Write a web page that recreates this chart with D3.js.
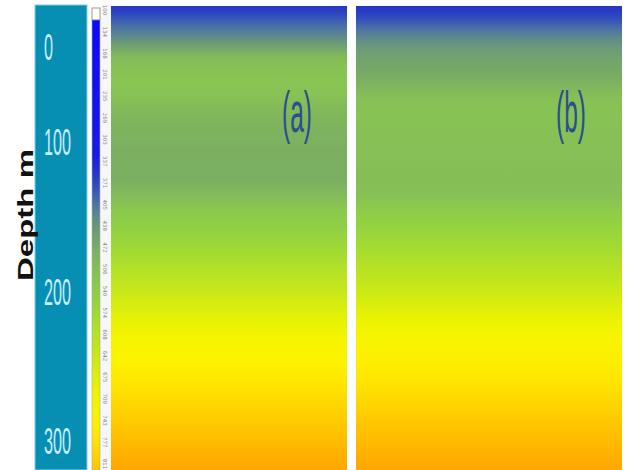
<!DOCTYPE html>
<html>
<head>
<meta charset="utf-8">
<script src="https://cdn.jsdelivr.net/npm/d3@7/dist/d3.min.js"></script>
<style>
  html, body { margin: 0; padding: 0; background: #fff; }
  svg { display: block; }
</style>
</head>
<body>
<div id="page"></div>
<script>
// depth labels on the left panel
var depthTicks = [0, 100, 200, 300];
// colour bar labels
var barTicks = [100, 134, 168, 201, 235, 269, 303, 337, 371, 405, 438, 472, 506, 540, 574, 608, 642, 675, 709, 743, 777, 811];
// depth rows (m) of the two sections
var depths = [7, 12, 17, 23, 30, 36, 43, 51, 58, 68, 75, 85, 105, 125, 135, 145, 155, 168, 182, 195, 205, 219, 232, 246, 259, 273, 286, 299, 313, 320];
var valuesA = [358, 365, 385, 405, 430, 460, 500, 515, 522, 515, 500, 487, 479, 477, 498, 530, 548, 568, 598, 628, 655, 690, 725, 745, 765, 790, 810, 828, 845, 850];
var valuesB = [355, 362, 378, 400, 425, 442, 455, 465, 478, 505, 515, 515, 510, 506, 512, 540, 556, 575, 605, 635, 662, 698, 730, 750, 770, 793, 812, 830, 846, 850];
// colour ramp
var colorValues = [100, 330, 355, 380, 400, 425, 450, 475, 500, 520, 550, 580, 620, 660, 700, 740, 770, 800, 830, 850];
var colorList = ['#0a0af8', '#1a1ae6', '#2535c8', '#3552b8', '#4a70a8', '#5f8c8a', '#70a070', '#7aae62', '#84bc58', '#88c454', '#90d044', '#a4dc30', '#bce420', '#d4ec10', '#ecf400', '#fcf400', '#ffe600', '#ffd200', '#ffbc00', '#ffa800'];

var W = 626, H = 470;
var svg = d3.select('#page').append('svg').attr('width', W).attr('height', H);
var defs = svg.append('defs');

var color = d3.scaleLinear().domain(colorValues).range(colorList).clamp(true);
var yDepth = d3.scaleLinear().domain([0, 300]).range([-6, 441]);
var yLabel = d3.scaleLinear().domain(depthTicks).range([47, 142, 292, 441]);
var yBar = d3.scaleLinear().domain([100, 811]).range([10, 464]);

var topY = 6;

// left teal panel with depth labels
svg.append('rect').attr('x', 35).attr('y', 5).attr('width', 52).attr('height', H - 5)
    .attr('fill', '#078fb3').attr('stroke', '#7fcde2').attr('stroke-width', 1);
svg.selectAll('.dlab').data(depthTicks).enter().append('text')
    .attr('class', 'dlab')
    .attr('transform', d => 'translate(44,' + (yLabel(d) + 13) + ') scale(0.45,1)')
    .attr('font-family', 'Liberation Sans, Arial, sans-serif')
    .attr('font-size', 36)
    .attr('fill', '#c8eef8')
    .text(d => d);

svg.append('text')
    .attr('transform', 'translate(33,215) rotate(-90) scale(1.5,1)')
    .attr('text-anchor', 'middle')
    .attr('font-family', 'Liberation Sans, Arial, sans-serif')
    .attr('font-weight', 'bold')
    .attr('font-size', 22)
    .attr('fill', '#111')
    .text('Depth m');

// colour bar
var barGrad = defs.append('linearGradient').attr('id', 'barGrad')
    .attr('gradientUnits', 'userSpaceOnUse')
    .attr('x1', 0).attr('x2', 0).attr('y1', 20).attr('y2', H);
d3.range(0, 41).forEach(i => {
    let y = 20 + (H - 20) * i / 40;
    barGrad.append('stop').attr('offset', i / 40).attr('stop-color', color(yBar.invert(y)));
});
svg.append('rect').attr('x', 100).attr('y', 6).attr('width', 11).attr('height', H - 6).attr('fill', '#f7f7f7');
svg.append('rect').attr('x', 92).attr('y', 8).attr('width', 8).attr('height', 12)
    .attr('fill', '#fff').attr('stroke', '#999').attr('stroke-width', 1);
svg.append('rect').attr('x', 92).attr('y', 20).attr('width', 8).attr('height', H - 20)
    .attr('fill', 'url(#barGrad)').attr('stroke', '#aaa').attr('stroke-width', 0.6);
svg.selectAll('.blab').data(barTicks).enter().append('text')
    .attr('class', 'blab')
    .attr('transform', d => 'translate(103,' + yBar(d) + ') rotate(90)')
    .attr('text-anchor', 'middle')
    .attr('font-family', 'DejaVu Sans, sans-serif')
    .attr('font-size', 5.5)
    .attr('fill', '#8a8a8a')
    .text(d => d);

// the two sections
function section(id, x0, x1, values, label, lx) {
    let grad = defs.append('linearGradient').attr('id', id)
        .attr('gradientUnits', 'userSpaceOnUse')
        .attr('x1', 0).attr('x2', 0).attr('y1', topY).attr('y2', H);
    depths.forEach((d, i) => {
        grad.append('stop')
            .attr('offset', Math.max(0, (yDepth(d) - topY) / (H - topY)))
            .attr('stop-color', color(values[i]));
    });
    svg.append('rect').attr('x', x0).attr('y', topY).attr('width', x1 - x0).attr('height', H - topY)
        .attr('fill', 'url(#' + id + ')');
    svg.append('text')
        .attr('transform', 'translate(' + lx + ',132) scale(0.43,1)')
        .attr('text-anchor', 'middle')
        .attr('font-family', 'Liberation Sans, Arial, sans-serif')
        .attr('font-size', 57)
        .attr('fill', '#2a4f8f')
        .text(label);
}
section('gradA', 111, 347, valuesA, '(a)', 297);
section('gradB', 356, 622, valuesB, '(b)', 571);
</script>
</body>
</html>
